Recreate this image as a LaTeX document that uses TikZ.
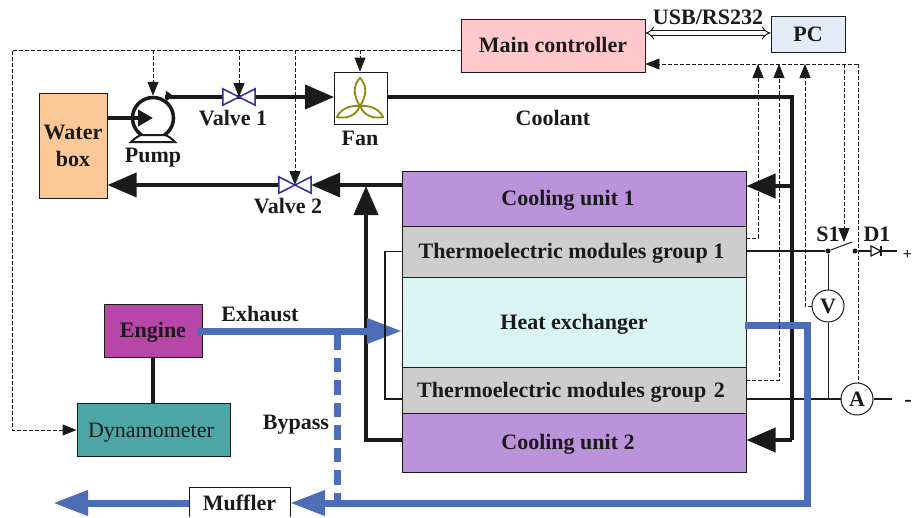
\documentclass[tikz,border=0pt]{standalone}
\usepackage{fontspec}
\setmainfont{Liberation Serif}
\usetikzlibrary{arrows.meta,calc}
\definecolor{ink}{HTML}{1A1A1A}
\definecolor{pipeblue}{HTML}{4F6CB7}
\definecolor{valveblue}{HTML}{332E96}
\definecolor{fanolive}{HTML}{8C8A00}
\definecolor{mainc}{HTML}{FFC9CC}
\definecolor{pcc}{HTML}{E4ECF7}
\definecolor{waterc}{HTML}{FBC997}
\definecolor{coolc}{HTML}{BB93DB}
\definecolor{tec}{HTML}{CDCDCD}
\definecolor{hxc}{HTML}{D9F4F2}
\definecolor{enginec}{HTML}{B845A8}
\definecolor{dynoc}{HTML}{4CA6A6}
\tikzset{
  x=1pt,y=-1pt,
  txt/.style={font=\fontsize{22}{26}\selectfont\bfseries,text=ink,inner sep=0pt,text height=14pt,text depth=0pt},
  blockbox/.style={draw=ink,line width=0.9pt,inner sep=0pt,txt},
  coolpipe/.style={draw=ink,line width=4pt},
  bigtip/.style={-{Triangle[length=29pt,width=24pt]}},
  ctrl/.style={draw=ink,line width=0.9pt,dash pattern=on 4pt off 2pt},
  ctrltip/.style={-{Triangle[length=14pt,width=11pt]}},
  wire/.style={draw=ink,line width=1.8pt},
  exhaustpipe/.style={draw=pipeblue,line width=7pt},
  bluetip/.style={-{Triangle[length=35pt,width=24pt]}},
  valve/.style={inner sep=0pt,minimum width=32pt,minimum height=16pt},
  meter/.style={circle,draw=ink,line width=1pt,fill=white,minimum size=32pt,inner sep=0pt,txt},
  dot/.style={circle,fill=ink,inner sep=0pt,minimum size=5pt},
}
\begin{document}
\begin{tikzpicture}
\useasboundingbox (0,0) rectangle (913,517);
% blocks
\node[blockbox,fill=mainc,minimum width=184pt,minimum height=53pt] (main) at (553,45.5) {Main controller};
\node[blockbox,fill=pcc,minimum width=74pt,minimum height=36pt] (pc) at (808,34) {PC};
\node[draw=ink,line width=0.9pt,inner sep=0pt,text=ink,fill=waterc,minimum width=68pt,minimum height=105pt,align=center,font=\fontsize{22}{27}\selectfont\bfseries] (water) at (73,145.5) {Water\\box};
\node[blockbox,fill=coolc,minimum width=344pt,minimum height=55pt] (cool1) at (574,198.5) {Cooling unit 1\hspace*{12pt}};
\node[blockbox,fill=tec,minimum width=344pt,minimum height=51pt] (te1) at (574,251.5) {Thermoelectric modules group 1\hspace*{5pt}};
\node[blockbox,fill=hxc,minimum width=344pt,minimum height=90pt] (hx) at (574,322) {Heat exchanger};
\node[blockbox,fill=tec,minimum width=344pt,minimum height=46pt] (te2) at (574,390) {Thermoelectric modules group\hspace{2pt} 2\hspace*{6pt}};
\node[blockbox,fill=coolc,minimum width=344pt,minimum height=59pt] (cool2) at (574,442.5) {Cooling unit 2\hspace*{12pt}};
\node[blockbox,fill=enginec,minimum width=98pt,minimum height=53pt] (engine) at (153,330.5) {Engine};
\node[blockbox,fill=dynoc,minimum width=153pt,minimum height=53pt,text height=16pt,font=\fontsize{22}{26}\selectfont] (dyno) at (153.5,429.5) {Dynamometer\hspace*{5pt}};
\draw[ink,line width=0.9pt,fill=white] (189,517) |- (290,487) -- (290,517);
\node[txt] (muffler) at (239.5,503) {Muffler};
\coordinate (mufW) at (189,503);
\coordinate (mufE) at (290,503);
% fan
\node[draw=ink,line width=0.9pt,fill=white,minimum width=53pt,minimum height=52pt,inner sep=0pt] (fan) at (360.5,98) {};
\coordinate (hub) at (360,106);
\draw[fanolive,line width=1.8pt]
  (hub) .. controls (352,94) and (354,84) .. (360,78) .. controls (366,84) and (368,94) .. (hub)
  (hub) .. controls (352,105) and (341,108) .. (337,117) .. controls (346,119) and (356,116) .. (hub)
  (hub) .. controls (368,105) and (379,108) .. (383,117) .. controls (374,119) and (364,116) .. (hub);
% pump and valves
\node[circle,draw=ink,line width=3.5pt,fill=none,minimum size=41pt,inner sep=0pt] (pump) at (153,118) {};
\draw[ink,line width=2pt,fill=white] (131,142) .. controls (136,137) and (139,136) .. (141,135) -- (165,135) .. controls (168,136) and (171,138) .. (175,142) -- cycle;
\node[valve] (v1) at (239,97) {};
\node[valve] (v2) at (295,185) {};
% coolant loop
\coordinate (cornerTR) at (792,97);
\coordinate (cornerBR) at (792,440);
\coordinate (tap1) at (792,186);
\coordinate (cu1in) at (746.5,186);
\coordinate (cu2in) at (746.5,440);
\coordinate (wbin) at (107.5,185);
\coordinate (wbout) at (107,118);
\coordinate (pumpout) at (165,97);
\coordinate (fanin) at (334,97);
\coordinate (fanout) at (387,97);
\coordinate (cu1out) at (402,185);
\coordinate (cu2out) at (402,440);
\coordinate (corner2) at (366,440);
\coordinate (merge) at (366,186);
\draw[coolpipe,-{Triangle[length=15pt,width=16pt]}] (wbout) -- (pump.center);
\draw[ink,fill=ink] (166,91) -- (173,96) -- (166,101) -- cycle;
\draw[coolpipe,bigtip] (pumpout) -- (fanin);
\draw[coolpipe] (fanout) -| (cornerBR);
\draw[coolpipe,bigtip] (cornerBR) -- (cu2in);
\draw[coolpipe,bigtip] (tap1) -- (cu1in);
\draw[coolpipe,bigtip] (cu2out) -- (corner2) -- (merge);
\draw[coolpipe,bigtip] (cu1out) -- (v2.east);
\draw[coolpipe,bigtip] (v2.west) -- (wbin);
\foreach \v in {v1,v2}{
  \draw[valveblue,line width=1.5pt,fill=white,line join=miter]
    (\v.north west) -- (\v.south east) -- (\v.north east) -- (\v.south west) -- cycle;
}
% engine link
\draw[ink,line width=4pt] (engine.south) -- (dyno.north -| engine.south);
% inner wire
\draw[ink,line width=1.5pt] (te1.west) -- (385,251.5) -- (385,399) -- (402,399);
% electrical
\node[meter] (V) at (828,306) {V};
\node[meter] (A) at (857,399) {A};
\node[dot] (sw1) at (828,251) {};
\node[dot] (sw2) at (855,251) {};
\coordinate (plusend) at (897,251);
\coordinate (minusend) at (892,399);
\coordinate (teout2) at (746,399);
\coordinate (blade) at (852,242);
\draw[wire] (746,251) -- (sw1);
\draw[ink,line width=1pt] (sw1) -- (blade);
\draw[wire] (sw2) -- (plusend);
\draw[ink,line width=1.2pt,fill=white] (871,246) -- (881,251) -- (871,256) -- cycle;
\draw[ink,line width=1.2pt] (881,246) -- (881,256);
\draw[ink,line width=1pt] (sw1) -- (V.north);
\draw[ink,line width=1pt] (V.south) -- (828,399);
\draw[wire] (teout2) -- (A.west);
\draw[wire] (A.east) -- (minusend);
% exhaust
\coordinate (exstart) at (198,331);
\coordinate (hxin) at (402,331);
\coordinate (hxout) at (745,325);
\coordinate (brk) at (337,335);
\coordinate (brk2) at (337,503);
\coordinate (bl) at (53,503);
\draw[exhaustpipe,dash pattern=on 14.5pt off 8pt] (brk) -- (brk2);
\draw[exhaustpipe,bluetip] (exstart) -- (hxin);
\draw[exhaustpipe,line join=miter,bluetip] (hxout) -- (807,325) -- (807,503) -- (mufE);
\draw[exhaustpipe,bluetip] (mufW) -- (bl);
\draw[ink,line width=1.5pt] (385,320) -- (385,345);
% control
\coordinate (tl) at (12,50);
\coordinate (bus) at (858,64);
\draw[ctrl,ctrltip] (main.west |- tl) -- (tl) -- (12,430) -- (dyno.west |- 0,430);
\draw[ctrl,ctrltip] (153,50) -- (pump.north);
\draw[ctrl,ctrltip] (239,50) -- (v1.center);
\draw[ctrl,ctrltip] (295,50) -- (v2.center);
\draw[ctrl,ctrltip] (360,50) -- (fan.north -| hub);
\draw[ctrl,ctrltip] (bus) -- (main.east |- bus);
\draw[ctrl] (bus) -- (A.north -| bus);
\draw[ctrl,ctrltip] (844,64) -- (844,242);
\draw[ctrl,ctrltip] (746,238) -- (758,238) -- (758,64);
\draw[ctrl,ctrltip] (746,380) -- (779,380) -- (779,64);
\draw[ctrl,ctrltip] (V.west) -- (805,306) -- (805,64);
% USB link
\draw[ink,line width=1pt,double=white,double distance=3.5pt,{Implies[length=7pt]}-{Implies[length=7pt]}] (main.east |- 0,33) -- (pc.west |- 0,33);
% labels
\node[txt] (lusb) at (708,17) {USB/RS232};
\node[txt] (lv1) at (233,118) {Valve 1};
\node[txt] (lv2) at (288,206) {Valve 2};
\node[txt] (lpump) at (153,155) {Pump};
\node[txt] (lfan) at (360,138) {Fan};
\node[txt] (lcool) at (553,118) {Coolant};
\node[txt] (lex) at (260,314) {Exhaust};
\node[txt] (lby) at (296,422) {Bypass};
\node[txt] (ls1) at (828,234) {S1};
\node[txt] (ld1) at (877,234) {D1};
\node[txt,font=\fontsize{16}{20}\selectfont\bfseries] (lplus) at (907.5,252) {+};
\node[txt] (lminus) at (908,399) {-};
\end{tikzpicture}
\end{document}
